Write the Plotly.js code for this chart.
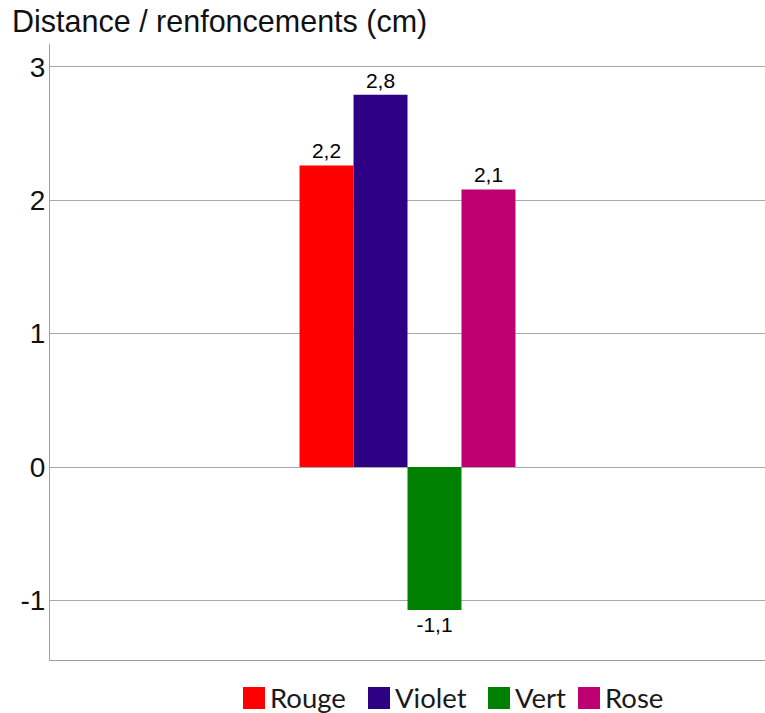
<!DOCTYPE html>
<html>
<head>
<meta charset="utf-8">
<script src="https://cdn.plot.ly/plotly-3.0.1.min.js"></script>
<style>html,body{margin:0;padding:0;background:#fff;}#chart{width:765px;height:713px;}</style>
</head>
<body>
<div id="chart"></div>
<script>
// ---- data ----
const category = ['Distance'];
const seriesNames = ['Rouge', 'Violet', 'Vert', 'Rose'];
const seriesValues = [2.26, 2.79, -1.07, 2.08];
const seriesLabels = ['2,2', '2,8', '-1,1', '2,1'];
const seriesColors = ['#ff0000', '#2e0084', '#008000', '#bf0070'];
const yTicks = [-1, 0, 1, 2, 3];
const chartTitle = 'Distance / renfoncements (cm)';

const ARIAL = "Arial, 'Liberation Sans', sans-serif";
const CALIBRI = "Lato, 'Open Sans', sans-serif";

// ---- traces ----
const traces = seriesNames.map((name, i) => ({
  type: 'bar',
  name: name,
  x: category,
  y: [seriesValues[i]],
  text: [seriesLabels[i]],
  textposition: 'outside',
  textfont: {family: ARIAL, size: 21, color: '#000'},
  cliponaxis: false,
  marker: {color: seriesColors[i], line: {width: 0}},
  showlegend: false,
  hoverinfo: 'skip'
}));

// ---- manual legend (large squares) ----
const W = 765, H = 713;
const legendBoxX = [243, 368, 488, 578];
const boxSize = 22;
const legendTop = 687;
const shapes = [];
const annotations = [];
seriesNames.forEach((name, i) => {
  const x0 = legendBoxX[i];
  shapes.push({
    type: 'rect', xref: 'paper', yref: 'paper',
    x0: (x0 - 50) / 715, x1: (x0 + boxSize - 50) / 715,
    y0: (660 - (legendTop + boxSize)) / 616, y1: (660 - legendTop) / 616,
    fillcolor: seriesColors[i], line: {width: 0}
  });
  annotations.push({
    xref: 'paper', yref: 'paper',
    x: (x0 + boxSize + 4 - 50) / 715, y: (660 - (legendTop + boxSize / 2 - 1)) / 616,
    xanchor: 'left', yanchor: 'middle', showarrow: false,
    text: name, borderpad: 0,
    font: {family: CALIBRI, size: 27.5, color: '#1a1a1a'}
  });
});

const layout = {
  width: W, height: H,
  paper_bgcolor: '#ffffff', plot_bgcolor: '#ffffff',
  margin: {l: 50, r: 0, t: 44, b: 53, pad: 0},
  title: {
    text: chartTitle,
    x: 12 / W, xref: 'container', xanchor: 'left',
    y: 1 - 21 / H, yref: 'container', yanchor: 'middle',
    font: {family: ARIAL, size: 30.5, color: '#111'}
  },
  barmode: 'group',
  bargap: 0.698,
  bargroupgap: 0,
  showlegend: false,
  xaxis: {
    type: 'category',
    showticklabels: false,
    showgrid: false,
    zeroline: false,
    showline: true,
    linecolor: '#a0a0a0',
    linewidth: 1,
    ticks: ''
  },
  yaxis: {
    range: [-1.445, 3.17],
    tickvals: yTicks,
    ticktext: yTicks.map(String),
    showgrid: true,
    gridcolor: '#a8a8a8',
    gridwidth: 1,
    zeroline: true,
    zerolinecolor: '#a8a8a8',
    zerolinewidth: 1,
    showline: true,
    linecolor: '#a0a0a0',
    linewidth: 1,
    ticks: '',
    ticklen: 0,
    ticklabelstandoff: -2,
    tickfont: {family: ARIAL, size: 28, color: '#111'}
  },
  shapes: shapes,
  annotations: annotations
};

Plotly.newPlot('chart', traces, layout, {displayModeBar: false, staticPlot: true});
</script>
</body>
</html>
